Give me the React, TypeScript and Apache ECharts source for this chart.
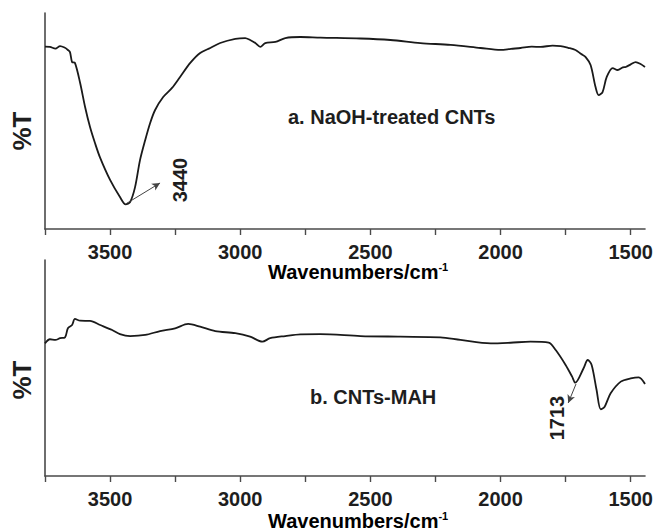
import React, { useEffect, useRef } from "react";
import * as echarts from "echarts";

// Panel a: NaOH-treated CNTs (wavenumber cm-1, relative %T)
const wavenumbersA = [3750, 3731, 3710, 3692, 3675, 3662, 3654, 3646, 3635, 3615, 3596, 3577, 3558, 3538, 3500, 3462, 3440, 3423, 3404, 3385, 3365, 3346, 3327, 3296, 3262, 3231, 3192, 3154, 3115, 3077, 3019, 2981, 2962, 2942, 2923, 2904, 2865, 2827, 2769, 2692, 2538, 2423, 2308, 2192, 2077, 2000, 1960, 1923, 1880, 1846, 1800, 1769, 1740, 1712, 1690, 1673, 1654, 1635, 1623, 1608, 1592, 1569, 1550, 1530, 1519, 1500, 1481, 1462, 1445];
const transmittanceA = [84.4, 84.3, 83.5, 84.7, 84.0, 82.9, 81.9, 77.3, 76.9, 67.6, 56.5, 47.2, 39.8, 32.9, 22.7, 14.8, 11.4, 12.5, 19.4, 31.9, 41.2, 49.1, 55.1, 61.1, 65.3, 70.4, 76.9, 81.5, 83.8, 86.1, 88.0, 88.4, 87.5, 86.1, 84.3, 86.1, 86.6, 88.4, 88.9, 88.6, 88.2, 87.5, 86.1, 85.2, 83.8, 82.9, 83.4, 83.8, 84.4, 84.3, 84.9, 84.7, 83.9, 82.9, 81.0, 79.6, 75.9, 65.7, 62.0, 63.4, 70.4, 74.5, 73.6, 74.8, 75.0, 76.2, 77.3, 76.4, 75.0];

// Panel b: CNTs-MAH
const wavenumbersB = [3750, 3731, 3710, 3692, 3673, 3662, 3646, 3635, 3615, 3577, 3538, 3492, 3462, 3423, 3365, 3308, 3250, 3200, 3154, 3096, 3019, 2962, 2915, 2885, 2827, 2769, 2692, 2538, 2385, 2231, 2154, 2038, 1962, 1885, 1815, 1788, 1750, 1725, 1713, 1681, 1665, 1650, 1631, 1615, 1600, 1577, 1538, 1500, 1469, 1445];
const transmittanceB = [61.4, 63.3, 63.0, 63.8, 64.2, 68.4, 69.9, 72.7, 71.9, 71.8, 69.9, 67.6, 65.7, 64.8, 65.3, 67.1, 68.4, 70.4, 69.1, 67.1, 66.1, 64.5, 62.2, 63.8, 64.8, 65.6, 65.7, 64.8, 64.5, 64.2, 63.0, 61.4, 61.7, 62.2, 61.7, 58.3, 51.4, 46.0, 43.2, 49.9, 53.7, 51.4, 39.8, 30.9, 32.1, 38.3, 43.7, 45.2, 45.7, 42.6];

const majorTicks = [1500, 2000, 2500, 3000, 3500];
const allTicks = [1500, 1750, 2000, 2250, 2500, 2750, 3000, 3250, 3500, 3750];

const panelLabels = ["a. NaOH-treated CNTs", "b. CNTs-MAH"];
const peakA = { label: "3440", from: [3440, 11.6], to: [3308, 21.3] };
const peakB = { label: "1713", from: [1710, 42.6], to: [1740, 33.8] };

const FONT = "'Liberation Sans', Arial, Helvetica, sans-serif";
const TXT = "#1e1e1e";
const AX = "#4a4a4a";

export default function App() {
  const ref = useRef<HTMLDivElement>(null);
  useEffect(() => {
    if (!ref.current) return;
    const chart = echarts.init(ref.current, null, { renderer: "svg" });
    const dataA = wavenumbersA.map((w, i) => [w, transmittanceA[i]]);
    const dataB = wavenumbersB.map((w, i) => [w, transmittanceB[i]]);

    const xAxisBase = (gridIndex: number) => ({
      type: "value",
      gridIndex,
      inverse: true,
      min: 1445,
      max: 3750,
      position: "bottom",
      axisLine: { show: true, onZero: false, lineStyle: { color: AX, width: 1.6 } },
      axisTick: {
        show: true,
        inside: false,
        length: 6,
        customValues: allTicks,
        lineStyle: { color: AX, width: 1.4 },
      },
      axisLabel: {
        show: true,
        customValues: majorTicks,
        formatter: (v: number) => String(v),
        margin: 13,
        color: TXT,
        fontFamily: FONT,
        fontWeight: "bold",
        fontSize: 20,
      },
      splitLine: { show: false },
    });
    const yAxisBase = (gridIndex: number) => ({
      type: "value",
      gridIndex,
      min: 0,
      max: 100,
      axisLine: { show: true, onZero: false, lineStyle: { color: AX, width: 1.6 } },
      axisTick: { show: false },
      axisLabel: { show: false },
      splitLine: { show: false },
    });

    const arrowLine = (p: { from: number[]; to: number[] }) => ({
      silent: true,
      symbol: ["none", "arrow"],
      symbolSize: [6, 8],
      label: { show: false },
      lineStyle: { color: "#444", width: 1, type: "solid" },
      data: [[{ coord: p.from }, { coord: p.to }]],
    });

    const titleRich = {
      m: { fontFamily: FONT, fontWeight: "bold", fontSize: 20, color: TXT, lineHeight: 22 },
      s: { fontFamily: FONT, fontWeight: "bold", fontSize: 11, color: TXT, lineHeight: 22, verticalAlign: "top", padding: [0, 0, 12, 0] },
    };
    const textStyle = (text: string, extra: any = {}) => ({
      text,
      fill: TXT,
      font: `bold 20px ${FONT}`,
      ...extra,
    });

    chart.setOption({
      animation: false,
      backgroundColor: "#ffffff",
      grid: [
        { left: 45, top: 13, width: 600, height: 216, outerBoundsMode: "none", containLabel: false },
        { left: 45, top: 260, width: 600, height: 216, outerBoundsMode: "none", containLabel: false },
      ],
      xAxis: [xAxisBase(0), xAxisBase(1)],
      yAxis: [yAxisBase(0), yAxisBase(1)],
      series: [
        {
          type: "line",
          xAxisIndex: 0,
          yAxisIndex: 0,
          data: dataA,
          showSymbol: false,
          smooth: 0.3,
          lineStyle: { color: "#1a1a1a", width: 1.8 },
          markLine: arrowLine(peakA),
        },
        {
          type: "line",
          xAxisIndex: 1,
          yAxisIndex: 1,
          data: dataB,
          showSymbol: false,
          smooth: 0.3,
          lineStyle: { color: "#1a1a1a", width: 1.8 },
          markLine: arrowLine(peakB),
        },
      ],
      graphic: [
        { type: "text", left: 288, top: 107, style: textStyle(panelLabels[0]) },
        { type: "text", left: 310, top: 387, style: textStyle(panelLabels[1]) },
        {
          type: "text", x: 180, y: 180, rotation: Math.PI / 2,
          style: textStyle(peakA.label, { align: "center", verticalAlign: "middle" }),
        },
        {
          type: "text", x: 557, y: 418, rotation: Math.PI / 2,
          style: textStyle(peakB.label, { align: "center", verticalAlign: "middle" }),
        },
        {
          type: "text", x: 22, y: 131, rotation: Math.PI / 2,
          style: textStyle("%T", { font: `bold 26px ${FONT}`, align: "center", verticalAlign: "middle" }),
        },
        {
          type: "text", x: 22, y: 380, rotation: Math.PI / 2,
          style: textStyle("%T", { font: `bold 26px ${FONT}`, align: "center", verticalAlign: "middle" }),
        },
        {
          type: "text", x: 268, y: 272,
          style: { text: "{m|Wavenumbers/cm}{s|-1}", rich: titleRich, verticalAlign: "middle", align: "left" },
        },
        {
          type: "text", x: 268, y: 521,
          style: { text: "{m|Wavenumbers/cm}{s|-1}", rich: titleRich, verticalAlign: "middle", align: "left" },
        },
      ],
    });
    return () => chart.dispose();
  }, []);
  return <div ref={ref} style={{ position: "fixed", left: 0, top: 0, width: 654, height: 532, background: "#fff" }} />;
}
